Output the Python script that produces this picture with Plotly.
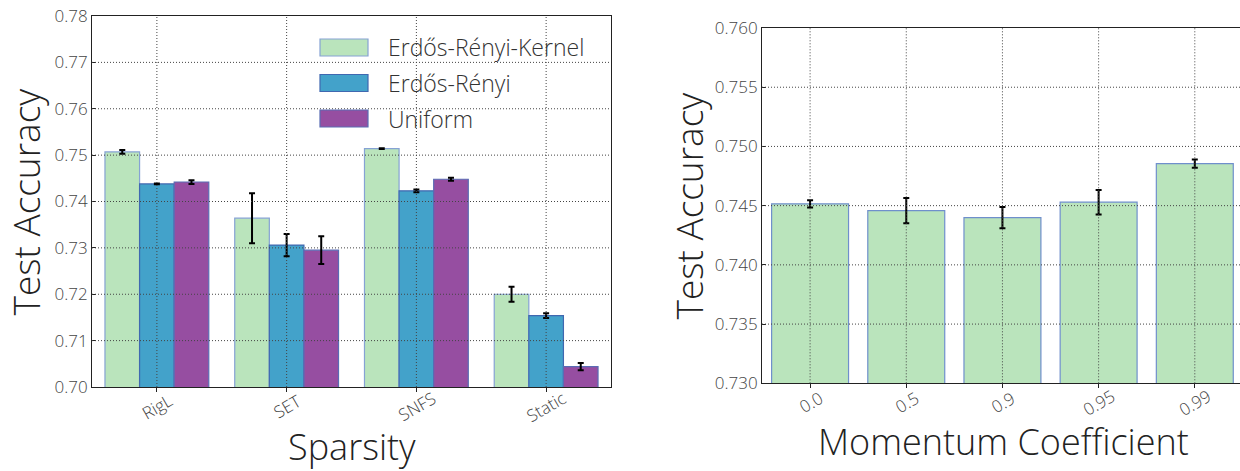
import plotly.graph_objects as go
from plotly.subplots import make_subplots

# ---------------- data ----------------
sparsity_methods = ["RigL", "SET", "SNFS", "Static"]
series_names = ["Erdős-Rényi-Kernel", "Erdős-Rényi", "Uniform"]
erk_acc = [0.7507, 0.7364, 0.7514, 0.7200]
erk_err = [0.0004, 0.0054, 0.0001, 0.0016]
er_acc = [0.7438, 0.7306, 0.7423, 0.7154]
er_err = [0.0001, 0.0024, 0.0003, 0.0005]
uni_acc = [0.7442, 0.7295, 0.7448, 0.7044]
uni_err = [0.0004, 0.0030, 0.0003, 0.0008]

momentum_labels = ["0.0", "0.5", "0.9", "0.95", "0.99"]
momentum_acc = [0.74515, 0.74458, 0.74399, 0.74529, 0.74855]
momentum_err = [0.0003, 0.00107, 0.00089, 0.00104, 0.00035]

left_yticks = [0.70, 0.71, 0.72, 0.73, 0.74, 0.75, 0.76, 0.77, 0.78]
right_yticks = [0.730, 0.735, 0.740, 0.745, 0.750, 0.755, 0.760]

# ---------------- style ----------------
W, H = 1240, 471
FONT = "Open Sans"
fills = ["#bae4bc", "#43a2ca", "#964ea1"]
edges = ["#86a2d4", "#4068b0", "#5a6cb4"]
TICK_COLOR = "#444444"
TITLE_COLOR = "#222222"
GRID_COLOR = "#444444"
GRID_DASH = "1px,2px"

def px(x):
    return x / W

def py(y):
    return 1 - y / H

fig = make_subplots(rows=1, cols=2)

series_acc = [erk_acc, er_acc, uni_acc]
series_err = [erk_err, er_err, uni_err]
for name, acc, err, fc, ec in zip(series_names, series_acc, series_err, fills, edges):
    fig.add_trace(go.Bar(
        x=sparsity_methods, y=acc, name=name,
        marker=dict(color=fc, line=dict(color=ec, width=1.2)),
        error_y=dict(type="data", array=err, color="black", thickness=2, width=3),
        showlegend=False,
    ), row=1, col=1)

fig.add_trace(go.Bar(
    x=momentum_labels, y=momentum_acc, name="ERK",
    marker=dict(color=fills[0], line=dict(color="#6f8fcc", width=1.2)),
    error_y=dict(type="data", array=momentum_err, color="black", thickness=2, width=3),
    showlegend=False,
), row=1, col=2)

fig.update_layout(
    width=W, height=H,
    margin=dict(l=0, r=0, t=0, b=0, autoexpand=False),
    paper_bgcolor="white", plot_bgcolor="white",
    barmode="group", bargap=0.2, bargroupgap=0.0,
    font=dict(family=FONT, weight=300, color=TICK_COLOR),
)

axis_common = dict(showgrid=False, zeroline=False, automargin=False,
                   showline=True, linecolor="#222222", linewidth=1, tickcolor="#222222",
                   layer="above traces")
tick_font = dict(size=17, color=TICK_COLOR, family=FONT, weight=300)

# left axes
fig.update_xaxes(type="category", domain=[px(92), px(611)], range=[-0.5, 3.5], showticklabels=False,
                 mirror=True, ticks="outside", ticklen=4, **axis_common, row=1, col=1)
fig.update_yaxes(domain=[py(387), py(16)], range=[0.70, 0.78], tickvals=left_yticks,
                 tickformat=".2f", tickfont=tick_font, mirror=True,
                 ticks="inside", ticklen=4, **axis_common, row=1, col=1)

# right axes
fig.update_xaxes(type="category", domain=[px(762), 1.0], range=[-0.5, 4.47], showticklabels=False,
                 mirror=True, ticks="outside", ticklen=4, **axis_common, row=1, col=2)
fig.update_yaxes(domain=[py(383.3), py(28)], range=[0.730, 0.760], tickvals=right_yticks,
                 tickformat=".3f", tickfont=tick_font, mirror=False,
                 ticks="inside", ticklen=4, **axis_common, row=1, col=2)

shapes = []
# dotted grid drawn above the bars (as in the reference)
grid_line = dict(color=GRID_COLOR, width=1, dash=GRID_DASH)
for xr, yr, cats, yt in [("x", "y", sparsity_methods, left_yticks),
                         ("x2", "y2", momentum_labels, right_yticks)]:
    for i, _ in enumerate(cats):
        shapes.append(dict(type="line", xref=xr, yref=f"{yr} domain", x0=i, x1=i, y0=0, y1=1,
                           line=grid_line, layer="above"))
    for v in yt[1:-1]:
        shapes.append(dict(type="line", xref=f"{xr} domain", yref=yr, x0=0, x1=1, y0=v, y1=v,
                           line=grid_line, layer="above"))

annotations = []
# rotated category labels, centred under each tick
for i, cat in enumerate(sparsity_methods):
    annotations.append(dict(x=i, xref="x", y=py(406), yref="paper", text=cat,
                            showarrow=False, textangle=-30, xanchor="center", yanchor="middle",
                            font=tick_font))
for i, cat in enumerate(momentum_labels):
    annotations.append(dict(x=i, xref="x2", y=py(402), yref="paper", text=cat,
                            showarrow=False, textangle=-30, xanchor="center", yanchor="middle",
                            font=tick_font))

# axis titles
title_font = dict(size=37, color=TITLE_COLOR, family=FONT, weight=300)
annotations += [
    dict(x=px(25), y=py(201.5), xref="paper", yref="paper", text="Test Accuracy",
         textangle=-90, showarrow=False, font=title_font, xanchor="center", yanchor="middle"),
    dict(x=px(688), y=py(205.5), xref="paper", yref="paper", text="Test Accuracy",
         textangle=-90, showarrow=False, font=title_font, xanchor="center", yanchor="middle"),
    dict(x=px(352), y=py(446), xref="paper", yref="paper", text="Sparsity",
         showarrow=False, font=dict(title_font, size=36), xanchor="center", yanchor="middle"),
    dict(x=px(1003), y=py(441), xref="paper", yref="paper", text="Momentum Coefficient",
         showarrow=False, font=dict(title_font, size=36), xanchor="center", yanchor="middle"),
]

# legend (swatches + labels)
row_centers = [47.5, 83, 118.5]
for name, fc, ec, yc in zip(series_names, fills, edges, row_centers):
    shapes.append(dict(type="rect", xref="paper", yref="paper",
                       x0=px(320), x1=px(368), y0=py(yc + 8.5), y1=py(yc - 8.5),
                       fillcolor=fc, line=dict(color=ec, width=1.2), layer="above"))
    annotations.append(dict(x=px(386), y=py(yc), xref="paper", yref="paper", text=name,
                            showarrow=False, xanchor="left", yanchor="middle",
                            bgcolor="rgba(0,0,0,0)",
                            font=dict(size=23, color="#333333", family=FONT, weight=300)))

fig.update_layout(annotations=annotations, shapes=shapes)

fig.write_html(
    "out.html",
    config={"displayModeBar": False},
    post_script="document.body.style.margin='0';document.body.style.overflow='hidden';",
)
